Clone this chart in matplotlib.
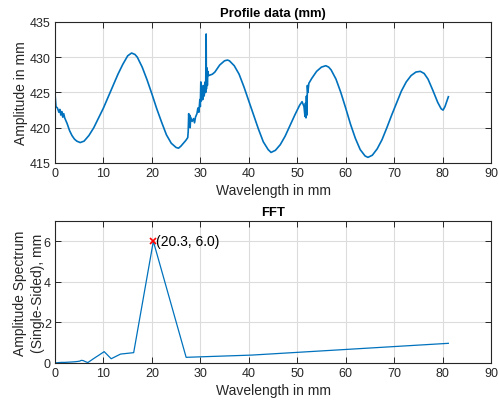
import matplotlib.pyplot as plt

# profile (wavelength in mm, amplitude in mm)
prof_x = [0, 0.2, 0.5, 0.8, 1.0, 1.2, 1.4, 1.6, 1.8, 2.0, 2.5, 3, 3.5, 4, 4.5, 5.2,
          6, 7, 8, 9, 10, 11, 12, 13, 14, 15, 15.8, 16.5, 17, 18, 19, 20, 21, 22,
          23, 24, 25, 25.5, 26, 27, 27.4, 27.5, 27.6, 27.7, 27.8, 27.9, 28.0, 28.3,
          28.6, 28.8, 29.0, 29.3, 29.5, 29.7, 29.9, 30.0, 30.1, 30.2, 30.4, 30.5,
          30.6, 30.8, 31.0, 31.1, 31.2, 31.25, 31.35, 31.45, 31.55, 31.7, 32.5, 33,
          34, 35, 35.6, 36, 37, 38, 39, 40, 41, 42, 43, 44, 44.6, 45.5, 46.5, 47.5,
          48.5, 49.5, 50.5, 51, 51.4, 51.6, 51.7, 51.8, 51.9, 52.0, 52.1, 52.2, 52.4,
          53, 54, 55, 55.9, 56.5, 57, 58, 59, 60, 61, 62, 63, 64, 64.6, 65.5, 66.5,
          67.5, 68.5, 69.5, 70.5, 71.5, 72.5, 73.5, 74.5, 75.4, 76.2, 77, 78, 79,
          79.7, 80.1, 80.5, 81.2]
prof_y = [424.8, 423.0, 422.8, 422.2, 422.6, 421.8, 422.3, 421.5, 422.0, 421.4, 420.6,
          419.6, 418.9, 418.4, 418.1, 417.9, 418.1, 418.9, 420.0, 421.4, 422.8, 424.4,
          426.0, 427.6, 429.0, 430.2, 430.6, 430.4, 430.0, 428.6, 426.8, 424.8, 422.7,
          420.8, 419.0, 417.8, 417.2, 417.1, 417.4, 418.2, 418.6, 419.5, 422.0, 420.5,
          421.8, 420.0, 421.5, 420.9, 421.3, 420.7, 421.5, 422.0, 422.8, 422.2, 424.0,
          423.0, 426.5, 423.8, 425.5, 424.0, 426.0, 424.5, 426.5, 425.0, 433.3, 425.5,
          428.5, 426.0, 428.0, 427.4, 427.6, 427.9, 428.9, 429.5, 429.6, 429.5, 428.8,
          427.6, 425.8, 423.8, 421.8, 419.8, 418.0, 416.9, 416.5, 416.8, 417.6, 418.8,
          420.3, 421.8, 423.2, 423.7, 423.0, 421.6, 423.5, 421.4, 424.5, 421.8, 426.0,
          425.0, 426.3, 427.0, 428.0, 428.6, 428.8, 428.6, 428.2, 426.9, 425.0, 422.8,
          420.5, 418.5, 416.9, 416.0, 415.8, 416.1, 417.0, 418.3, 420.0, 421.8, 423.5,
          425.2, 426.5, 427.4, 427.9, 428.0, 427.7, 426.9, 425.3, 423.6, 422.7, 422.5,
          423.0, 424.4]

# FFT amplitude spectrum by wavelength
fft_x = [0, 0.3, 0.68, 1.35, 2.03, 2.71, 3.38, 4.06, 4.78, 5.08, 5.41, 5.8, 6.25,
         6.77, 7.38, 8.12, 9.02, 10.15, 11.6, 13.53, 16.24, 20.3, 27.07, 40.6, 81.2]
fft_y = [0, 0.01, 0.02, 0.03, 0.03, 0.04, 0.05, 0.06, 0.08, 0.09, 0.13, 0.12, 0.07,
         0.02, 0.12, 0.24, 0.38, 0.56, 0.21, 0.44, 0.51, 6.0, 0.28, 0.39, 0.97]
peak_x = 20.3
peak_y = 6.0

plt.rcParams['font.family'] = ['Liberation Sans', 'DejaVu Sans']
plt.rcParams['font.size'] = 8

blue = '#0072BD'
dark = '#262626'

fig = plt.figure(figsize=(4.99, 4.06), dpi=100)
ax1 = fig.add_axes([55/499, 1 - 164/406, 436/499, 141/406])
ax2 = fig.add_axes([55/499, 1 - 364/406, 436/499, 142/406])

for ax in (ax1, ax2):
    ax.grid(True, color='#dcdcdc', linewidth=0.8)
    ax.set_axisbelow(True)
    ax.tick_params(direction='in', top=True, right=True, length=4, width=0.7,
                   colors=dark, labelsize=9, pad=3)
    for s in ax.spines.values():
        s.set_color(dark)
        s.set_linewidth(0.8)
    ax.set_xlim(0, 90)
    ax.set_xticks(range(0, 91, 10))

ax1.plot(prof_x, prof_y, color=blue, linewidth=1.2)
ax1.set_ylim(415, 435)
ax1.set_yticks([415, 420, 425, 430, 435])
ax1.set_title('Profile data (mm)', fontsize=9.4, fontweight='bold', color='black', pad=4)
ax1.set_xlabel('Wavelength in mm', fontsize=10, color=dark, labelpad=3)
ax1.set_ylabel('Amplitude in mm', fontsize=10, color=dark, labelpad=1)

ax2.plot(fft_x, fft_y, color=blue, linewidth=0.9)
ax2.plot(peak_x, peak_y, 'x', color='red', markersize=5, markeredgewidth=1.2)
ax2.text(peak_x + 0.6, peak_y, '(%.1f, %.1f)' % (peak_x, peak_y), fontsize=10,
         color='black', va='center', ha='left')
ax2.set_ylim(0, 7)
ax2.set_yticks([0, 2, 4, 6])
ax2.set_title('FFT', fontsize=9.4, fontweight='bold', color='black', pad=4)
ax2.set_xlabel('Wavelength in mm', fontsize=10, color=dark, labelpad=3)
ax2.set_ylabel('Amplitude Spectrum\n(Single-Sided), mm', fontsize=10, color=dark,
               labelpad=-1, linespacing=1.4)

fig.savefig('out.png', dpi=100)
